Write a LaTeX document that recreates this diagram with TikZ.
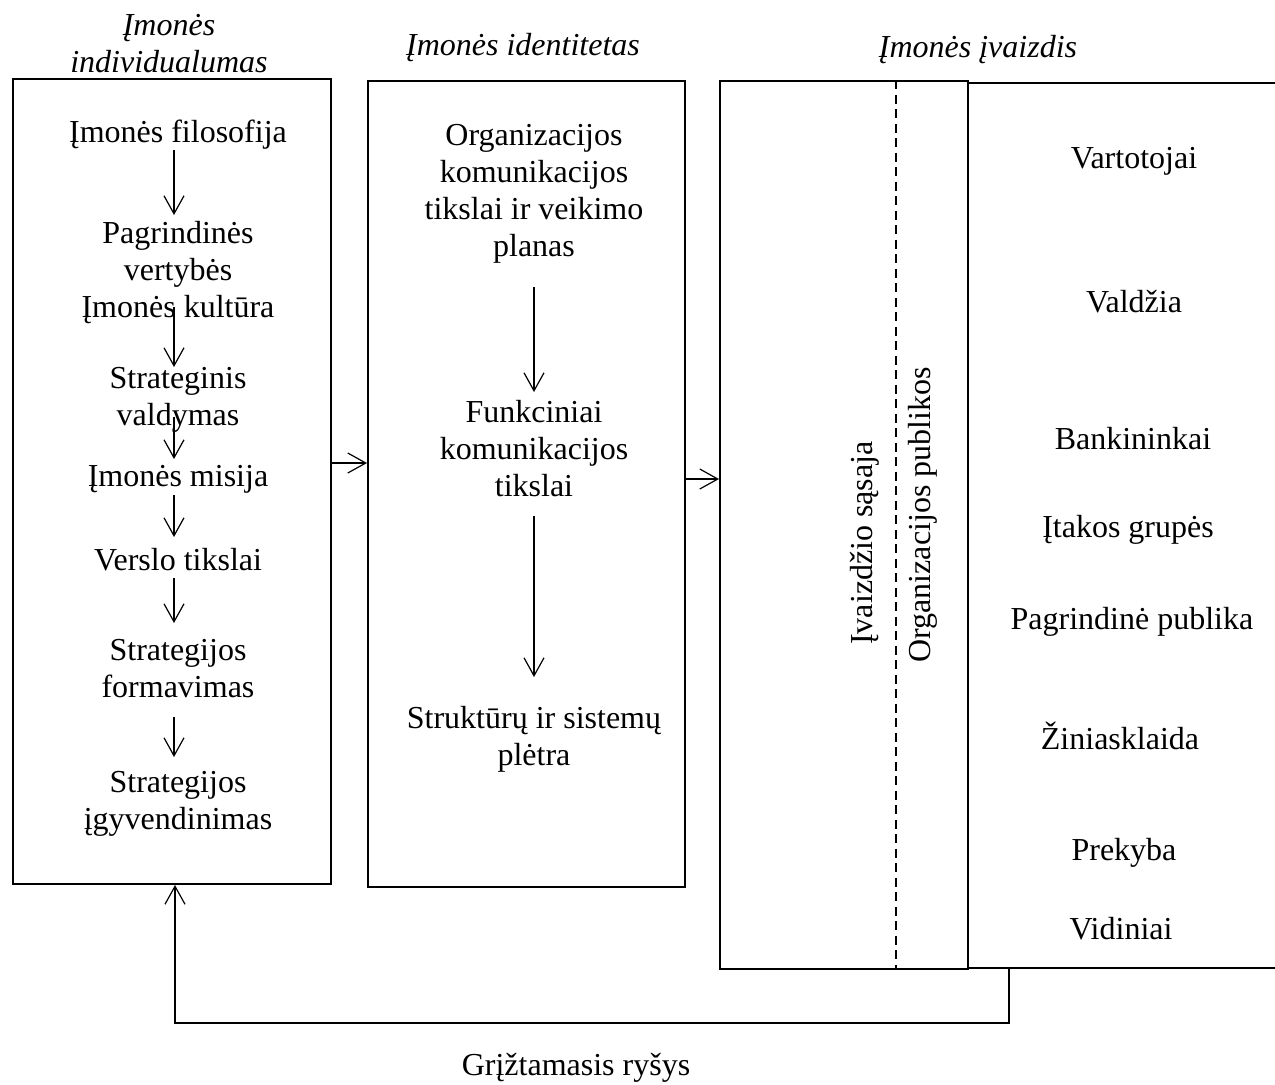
\documentclass[tikz,border=0pt]{standalone}
\usepackage{fontspec}
\setmainfont{Liberation Serif}
\usetikzlibrary{arrows.meta}
\newcommand{\mlines}[1]{\begin{tabular}[t]{@{}c@{}}#1\end{tabular}}
\begin{document}
\begin{tikzpicture}[x=0.5pt,y=-0.5pt,
  box/.style={draw,line width=1pt,inner sep=0pt,anchor=north west},
  txt/.style={inner sep=0pt,anchor=base,font=\fontsize{16}{18.6}\selectfont},
  ttl/.style={inner sep=0pt,anchor=base,font=\fontsize{16}{18.6}\selectfont\itshape},
  arr/.style={line width=0.6pt,-{Straight Barb[length=9pt,width=10pt]}},
  dashline/.style={line width=0.6pt,dash pattern=on 4.5pt off 2.75pt}]
\useasboundingbox (0,0) rectangle (1275,1084);

% boxes
\node[box,minimum width=159pt,minimum height=402.5pt] (b1) at (12,78) {};
\node[box,minimum width=158.5pt,minimum height=403pt] (b2) at (367,80) {};
\node[box,minimum width=124pt,minimum height=444pt] (b3) at (719,80) {};
\draw[line width=1pt] (967,83) -- (1278,83);
\draw[line width=1pt] (967,968) -- (1278,968);
\draw[dashline] (896,80) -- (896,968);

% titles
\node[ttl] (t1) at (169,35) {\mlines{Įmonės\\individualumas}};
\node[ttl] (t2) at (523,55) {Įmonės identitetas};
\node[ttl] (t3) at (978,57) {Įmonės įvaizdis};

% box 1 texts
\node[txt] (n11) at (178,142) {Įmonės filosofija};
\node[txt] (n12) at (178,243) {\mlines{Pagrindinės\\vertybės\\Įmonės kultūra}};
\node[txt] (n13) at (178,388) {\mlines{Strateginis\\valdymas}};
\node[txt] (n14) at (178,486) {Įmonės misija};
\node[txt] (n15) at (178,570) {Verslo tikslai};
\node[txt] (n16) at (178,660) {\mlines{Strategijos\\formavimas}};
\node[txt] (n17) at (178,792) {\mlines{Strategijos\\įgyvendinimas}};

\coordinate (a1s) at (174,150); \coordinate (a1e) at (174,215);
\coordinate (a2s) at (174,307); \coordinate (a2e) at (174,367);
\coordinate (a3s) at (174,417); \coordinate (a3e) at (174,459);
\coordinate (a4s) at (174,495); \coordinate (a4e) at (174,537);
\coordinate (a5s) at (174,578); \coordinate (a5e) at (174,623);
\coordinate (a6s) at (174,717); \coordinate (a6e) at (174,757);
\draw[arr] (a1s) -- (a1e);
\draw[arr] (a2s) -- (a2e);
\draw[arr] (a3s) -- (a3e);
\draw[arr] (a4s) -- (a4e);
\draw[arr] (a5s) -- (a5e);
\draw[arr] (a6s) -- (a6e);

% box 2 texts
\node[txt] (n21) at (534,145) {\mlines{Organizacijos\\komunikacijos\\tikslai ir veikimo\\planas}};
\node[txt] (n22) at (534,422) {\mlines{Funkciniai\\komunikacijos\\tikslai}};
\node[txt] (n23) at (534,728) {\mlines{Struktūrų ir sistemų\\plėtra}};
\coordinate (c1s) at (534,287); \coordinate (c1e) at (534,392);
\coordinate (c2s) at (534,516); \coordinate (c2e) at (534,677);
\draw[arr] (c1s) -- (c1e);
\draw[arr] (c2s) -- (c2e);

% box 3 texts
\node[txt,rotate=90] (r1) at (872,543) {Įvaizdžio sąsaja};
\node[txt,rotate=90] (r2) at (930,515) {Organizacijos publikos};

\node[txt] (p1) at (1134,168) {Vartotojai};
\node[txt] (p2) at (1134,312) {Valdžia};
\node[txt] (p3) at (1133,449) {Bankininkai};
\node[txt] (p4) at (1128,537) {Įtakos grupės};
\node[txt] (p5) at (1132,629) {Pagrindinė publika};
\node[txt] (p6) at (1120,749) {Žiniasklaida};
\node[txt] (p7) at (1124,860) {Prekyba};
\node[txt] (p8) at (1121,939) {Vidiniai};

% connections between boxes
\coordinate (h1) at (0,463);
\coordinate (h2) at (0,479);
\draw[arr] (b1.east |- h1) -- (b2.west |- h1);
\draw[arr] (b2.east |- h2) -- (b3.west |- h2);

% feedback
\coordinate (f1) at (1009,968);
\coordinate (f2) at (1009,1023);
\coordinate (f3) at (175,1023);
\draw[arr] (f1) -- (f2) -- (f3) -- (b1.south -| f3);
\node[txt] (fbl) at (576,1075) {Grįžtamasis ryšys};
\end{tikzpicture}
\end{document}
